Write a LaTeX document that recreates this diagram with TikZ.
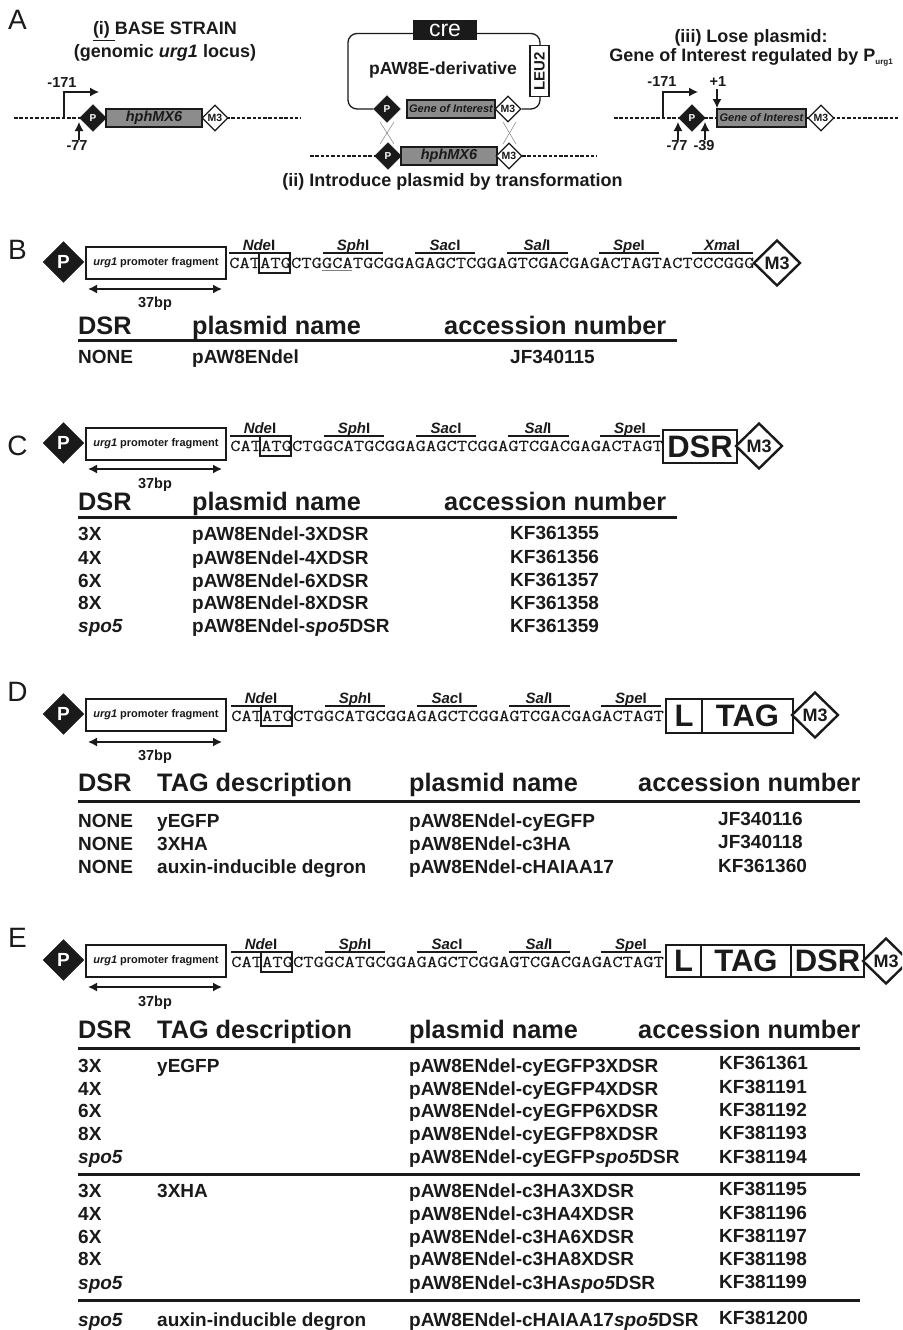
\documentclass[tikz,border=0pt]{standalone}
\usepackage{fontspec}
\usepackage{graphicx}
\setmainfont{Liberation Sans}
\newfontfamily\seqfont[FakeBold=0.35]{Latin Modern Mono}
\usetikzlibrary{shapes.geometric,arrows.meta}
\newcounter{autonode}
\definecolor{genegray}{HTML}{8C8C8C}
\definecolor{ink}{HTML}{1A1A1A}
\newcommand{\fsz}[1]{\fontsize{#1}{#1}\selectfont}
\tikzset{
  x=1pt,y=-1pt,
  every node/.style={text=ink},
  tx/.style={inner sep=0pt,anchor=base west,font=\bfseries\fsz{19}},
  hd/.style={inner sep=0pt,anchor=base west,font=\bfseries\fsz{25.3}},
  ctr/.style={inner sep=0pt,anchor=center,font=\bfseries\fsz{14.5}},
  ttl/.style={inner sep=0pt,anchor=base,font=\bfseries\fsz{18}},
  panel/.style={inner sep=0pt,anchor=center,font=\fsz{28}},
  dPs/.style={diamond,aspect=1,inner sep=0pt,fill=ink,draw=ink,minimum width=27pt,minimum height=27pt,text=white,font=\bfseries\fsz{10}},
  dMs/.style={diamond,aspect=1,inner sep=0pt,fill=white,draw=ink,line width=1.3pt,minimum width=26pt,minimum height=26pt,font=\bfseries\fsz{10.5}},
  dPl/.style={diamond,aspect=1,inner sep=0pt,fill=ink,draw=ink,minimum width=41pt,minimum height=41pt,text=white,font=\bfseries\fsz{19}},
  dMl/.style={diamond,aspect=1,inner sep=0pt,fill=white,draw=ink,line width=2.4pt,minimum width=47pt,minimum height=46pt,font=\bfseries\fsz{18}},
  gene/.style={fill=genegray,draw=ink,line width=1.4pt,inner sep=0pt,font=\bfseries\itshape\fsz{14.5}},
  rowline/.style={line width=3pt,draw=ink},
  dashline/.style={dash pattern=on 3.5pt off 1.8pt,line width=1.1pt,draw=ink},
  ar/.style={-{Latex[length=9pt,width=9pt]},line width=1.2pt,draw=ink},
  ar2/.style={{Latex[length=9pt,width=9pt]}-{Latex[length=9pt,width=9pt]},line width=1.5pt,draw=ink},
  cross/.style={line width=.5pt,draw=gray},
  pbox/.style={draw=ink,line width=1.2pt,inner sep=0pt,fill=white,font=\bfseries\fsz{11}},
  bigbox/.style={draw=ink,line width=1.4pt,inner sep=0pt,fill=white,font=\bfseries\fsz{31}},
  enz/.style={inner sep=0pt,anchor=base,font=\bfseries\fsz{15}},
  enzline/.style={line width=1.1pt,draw=ink},
  seqtxt/.style={inner sep=0pt,anchor=base west,font=\seqfont\fsz{20}},
}
% id, xoff, P y, seq baseline, box centre y, arrow y, bp y, sequence
\newcommand{\construct}[8]{%
  \node[dPl] (#1P) at (63.5,#3) {P};
  \node[pbox,minimum width=140pt,minimum height=32pt] (#1box) at (156,#5) {\itshape urg1\/ \upshape promoter fragment};
  \coordinate (#1al) at (88,#6); \coordinate (#1ar) at (222,#6);
  \draw[ar2] (#1al) -- (#1ar);
  \node[ctr] (#1bp) at (155,#7) {37bp};
  \node[seqtxt] (#1seq) at (229+#2,#4) {\scalebox{1}[.83]{#8}};
  \node[draw=ink,line width=1.1pt,inner sep=0pt,minimum width=31pt,minimum height=20pt] (#1atg) at (274.5+#2,#4-5) {};
  \enzyme{#1a}{#2}{#4}{259}{229}{289}{Nde}{I}
  \enzyme{#1b}{#2}{#4}{353}{323}{383}{Sph}{I}
  \enzyme{#1c}{#2}{#4}{445}{415}{475}{Sac}{I}
  \enzyme{#1d}{#2}{#4}{537}{507}{568}{Sal}{I}
  \enzyme{#1e}{#2}{#4}{629}{599}{659}{Spe}{I}
}
% id, xoff, baseline, centre, rule left, rule right, italic, roman
\newcommand{\enzyme}[8]{%
  \coordinate (#1l) at (#5+#2,#3-15); \coordinate (#1r) at (#6+#2,#3-15);
  \draw[enzline] (#1l) -- (#1r);
  \node[enz] (#1n) at (#4+#2,#3-18) {\itshape #7\upshape #8};
}
\newcommand{\Tx}[3]{\stepcounter{autonode}\node[tx] (t\theautonode) at (#1,#2) {#3};}
\newcommand{\Hd}[3]{\stepcounter{autonode}\node[hd] (t\theautonode) at (#1,#2) {#3};}
\newcommand{\Rule}[3]{\stepcounter{autonode}\coordinate (ra\theautonode) at (#1,#3); \coordinate (rb\theautonode) at (#2,#3); \draw[rowline] (ra\theautonode) -- (rb\theautonode);}
\begin{document}
\begin{tikzpicture}
\useasboundingbox (0,0) rectangle (902,1330);
\clip (0,0) rectangle (902,1330);
% panel letters
\node[panel] (lA) at (17.5,20) {A};
\node[panel] (lB) at (17.5,250) {B};
\node[panel] (lC) at (17.5,446) {C};
\node[panel] (lD) at (17.5,692) {D};
\node[panel] (lE) at (17.5,938) {E};
% --- A (i)
\node[ttl] (ti) at (165,35) {\underline{(i) }BASE STRAIN};
\node[ttl] (tib) at (165,57) {(genomic \itshape urg1\/\upshape\ locus)};
\coordinate (i1) at (14,118); \coordinate (i2) at (301,118);
\draw[dashline] (i1) -- (i2);
\coordinate (ib0) at (64,118); \coordinate (ib1) at (64,92); \coordinate (ib2) at (99,92);
\draw[ar] (ib0) -- (ib1) -- (ib2);
\node[ctr] (i171) at (62,83) {-171};
\node[dPs] (iP) at (93,118) {P};
\node[gene,minimum width=96pt,minimum height=18pt] (ih) at (154,118) {hphMX6};
\node[dMs] (iM) at (215,118) {M3};
\coordinate (ia0) at (79,140); \coordinate (ia1) at (79,122);
\draw[ar] (ia0) -- (ia1);
\node[ctr] (i77) at (77,146) {-77};
% --- A (ii)
\node[dPs] (pP) at (387,109) {P};
\node[dMs] (pM) at (508,109) {M3};
\draw[line width=1.3pt,draw=ink,rounded corners=9pt] (pP.west) -- (348,109) -- (348,33.5) -- (540,33.5) -- (540,109) -- (pM.east);
\node[fill=ink,inner sep=0pt,minimum width=64pt,minimum height=20pt,text=white,font=\fsz{23}] (cre) at (445,30.5) {cre};
\node[draw=ink,fill=white,line width=1.2pt,inner sep=0pt,minimum width=51pt,minimum height=19pt,rotate=90,font=\bfseries\fsz{15}] (leu) at (539.5,71) {LEU2};
\node[ctr,font=\bfseries\fsz{17.5}] (pname) at (443,69.5) {pAW8E-derivative};
\node[gene,minimum width=88pt,minimum height=18pt,font=\bfseries\itshape\fsz{11}] (pg) at (451,109) {Gene of Interest};
\draw[dashline] (310,156) -- (597,156);
\node[dPs] (qP) at (388,156) {P};
\node[gene,minimum width=96pt,minimum height=18pt] (qh) at (449,156) {hphMX6};
\node[dMs] (qM) at (509,156) {M3};
\draw[cross] (380,122) -- (394,144);
\draw[cross] (394,122) -- (380,144);
\draw[cross] (503,122) -- (516,144);
\draw[cross] (516,122) -- (503,144);
\node[ttl] (tii) at (452.5,186) {(ii) Introduce plasmid by transformation};
% --- A (iii)
\node[ttl] (tiii) at (751,43) {(iii) Lose plasmid:};
\node[ttl] (tiiib) at (751,62) {Gene of Interest regulated by P\raisebox{-3pt}{\fsz{8}urg1}};
\coordinate (r1) at (614,118); \coordinate (r2) at (898,118);
\draw[dashline] (r1) -- (r2);
\coordinate (rb0) at (663,118); \coordinate (rb1) at (663,92); \coordinate (rb2) at (698,92);
\draw[ar] (rb0) -- (rb1) -- (rb2);
\node[ctr] (r171) at (662,82) {-171};
\node[ctr] (rp1) at (718,82) {+1};
\coordinate (rc0) at (717,89); \coordinate (rc1) at (717,108);
\draw[ar] (rc0) -- (rc1);
\node[dPs] (rP) at (692,118) {P};
\node[gene,minimum width=89pt,minimum height=18pt,font=\bfseries\itshape\fsz{11}] (rg) at (761.5,118) {Gene of Interest};
\node[dMs] (rM) at (821,118) {M3};
\coordinate (ra0) at (678,140); \coordinate (ra1) at (678,122);
\draw[ar] (ra0) -- (ra1);
\coordinate (rd0) at (705,140); \coordinate (rd1) at (705,122);
\draw[ar] (rd0) -- (rd1);
\node[ctr] (r77) at (677,146) {-77};
\node[ctr] (r39) at (704,146) {-39};
% --- B
\construct{B}{0}{262}{268}{263}{289}{304}{CATATGCTGGCATGCGGAGAGCTCGGAGTCGACGAGACTAGTACTCCCGGG}
\enzyme{Bf}{0}{268}{722}{692}{753}{Xma}{I}
\draw[line width=.8pt,draw=gray] (322,270) -- (352,270);
\node[dMl] (BM) at (777,263) {M3};
\Hd{78}{334}{DSR}\Hd{192}{334}{plasmid name}\Hd{444}{334}{accession number}
\Rule{78}{677}{340}
\Tx{78}{363}{NONE}\Tx{192}{363}{pAW8ENdel}\Tx{510}{363}{JF340115}
% --- C
\construct{C}{1}{443}{451}{444}{469}{485}{CATATGCTGGCATGCGGAGAGCTCGGAGTCGACGAGACTAGT}
\node[bigbox,minimum width=74pt,minimum height=33pt] (Cdsr) at (700,446.5) {DSR};
\node[dMl] (CM) at (759,446) {M3};
\Hd{78}{510}{DSR}\Hd{192}{510}{plasmid name}\Hd{444}{510}{accession number}
\Rule{78}{677}{517}
\Tx{78}{540}{3X}\Tx{192}{540}{pAW8ENdel-3XDSR}\Tx{510}{539}{KF361355}
\Tx{78}{564}{4X}\Tx{192}{564}{pAW8ENdel-4XDSR}\Tx{510}{563}{KF361356}
\Tx{78}{587}{6X}\Tx{192}{587}{pAW8ENdel-6XDSR}\Tx{510}{586}{KF361357}
\Tx{78}{609}{8X}\Tx{192}{609}{pAW8ENdel-8XDSR}\Tx{510}{609}{KF361358}
\Tx{78}{632}{\itshape spo5}\Tx{192}{632}{pAW8ENdel-\itshape spo5\upshape DSR}\Tx{510}{632}{KF361359}
% --- D
\construct{D}{2}{714}{721}{715}{742}{757}{CATATGCTGGCATGCGGAGAGCTCGGAGTCGACGAGACTAGT}
\node[bigbox,minimum width=36pt,minimum height=34pt] (DL) at (684,716) {L};
\node[bigbox,minimum width=91pt,minimum height=34pt] (DT) at (747.5,716) {TAG};
\node[dMl] (DM) at (815,715) {M3};
\Hd{78}{791}{DSR}\Hd{157}{791}{TAG description}\Hd{409}{791}{plasmid name}\Hd{638}{791}{accession number}
\Rule{78}{860}{801}
\Tx{78}{827}{NONE}\Tx{157}{827}{yEGFP}\Tx{409}{827}{pAW8ENdel-cyEGFP}\Tx{718}{825}{JF340116}
\Tx{78}{850}{NONE}\Tx{157}{850}{3XHA}\Tx{409}{850}{pAW8ENdel-c3HA}\Tx{718}{848}{JF340118}
\Tx{78}{873}{NONE}\Tx{157}{873}{auxin-inducible degron}\Tx{409}{873}{pAW8ENdel-cHAIAA17}\Tx{718}{872}{KF361360}
% --- E
\construct{E}{2}{960}{967}{961}{987}{1003}{CATATGCTGGCATGCGGAGAGCTCGGAGTCGACGAGACTAGT}
\node[bigbox,minimum width=35pt,minimum height=32pt] (EL) at (683.5,961) {L};
\node[bigbox,minimum width=90pt,minimum height=32pt] (ET) at (746,961) {TAG};
\node[bigbox,minimum width=73pt,minimum height=32pt] (Edsr) at (827.5,961) {DSR};
\node[dMl] (EM) at (886,961) {M3};
\Hd{78}{1038}{DSR}\Hd{157}{1038}{TAG description}\Hd{409}{1038}{plasmid name}\Hd{638}{1038}{accession number}
\Rule{78}{860}{1048}
\Tx{78}{1072}{3X}\Tx{157}{1072}{yEGFP}\Tx{409}{1072}{pAW8ENdel-cyEGFP3XDSR}\Tx{719}{1069}{KF361361}
\Tx{78}{1095}{4X}\Tx{409}{1095}{pAW8ENdel-cyEGFP4XDSR}\Tx{719}{1093}{KF381191}
\Tx{78}{1117}{6X}\Tx{409}{1117}{pAW8ENdel-cyEGFP6XDSR}\Tx{719}{1116}{KF381192}
\Tx{78}{1140}{8X}\Tx{409}{1140}{pAW8ENdel-cyEGFP8XDSR}\Tx{719}{1139}{KF381193}
\Tx{78}{1163}{\itshape spo5}\Tx{409}{1163}{pAW8ENdel-cyEGFP\itshape spo5\upshape DSR}\Tx{719}{1163}{KF381194}
\Rule{78}{860}{1174}
\Tx{78}{1197}{3X}\Tx{157}{1197}{3XHA}\Tx{409}{1197}{pAW8ENdel-c3HA3XDSR}\Tx{719}{1195}{KF381195}
\Tx{78}{1220}{4X}\Tx{409}{1220}{pAW8ENdel-c3HA4XDSR}\Tx{719}{1219}{KF381196}
\Tx{78}{1243}{6X}\Tx{409}{1243}{pAW8ENdel-c3HA6XDSR}\Tx{719}{1242}{KF381197}
\Tx{78}{1265}{8X}\Tx{409}{1265}{pAW8ENdel-c3HA8XDSR}\Tx{719}{1265}{KF381198}
\Tx{78}{1289}{\itshape spo5}\Tx{409}{1289}{pAW8ENdel-c3HA\itshape spo5\upshape DSR}\Tx{719}{1288}{KF381199}
\Rule{78}{860}{1300}
\Tx{78}{1326}{\itshape spo5}\Tx{157}{1326}{auxin-inducible degron}\Tx{409}{1326}{pAW8ENdel-cHAIAA17\itshape spo5\upshape DSR}\Tx{719}{1324}{KF381200}
\end{tikzpicture}
\end{document}
